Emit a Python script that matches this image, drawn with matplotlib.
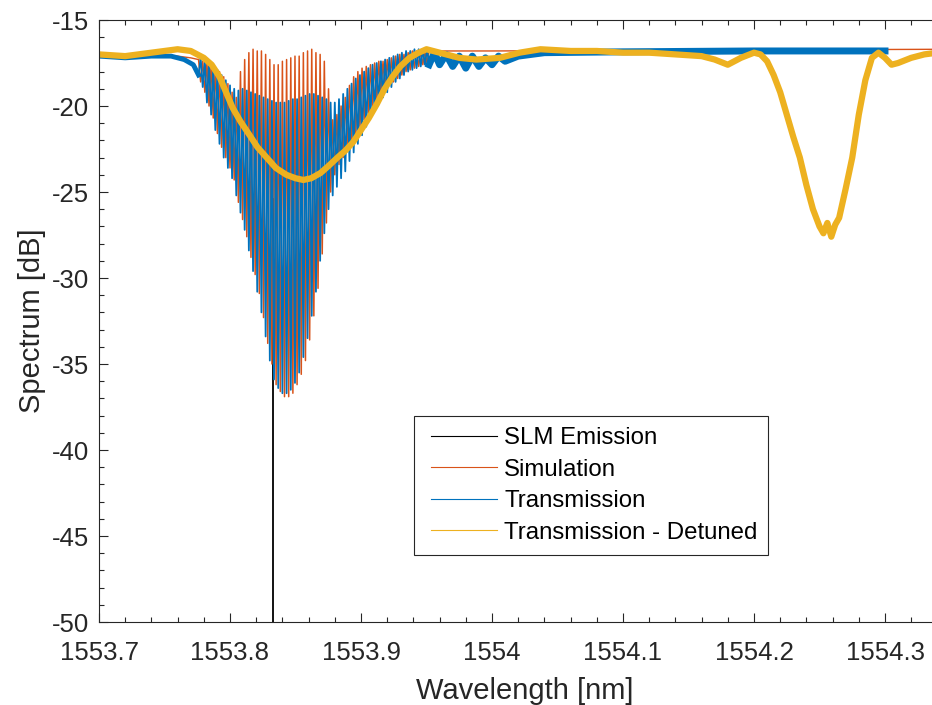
import numpy as np
import matplotlib
matplotlib.use("Agg")
import matplotlib.pyplot as plt
from matplotlib.lines import Line2D
from matplotlib.legend_handler import HandlerBase
from matplotlib.ticker import MultipleLocator

plt.rcParams['font.family'] = ['Liberation Sans', 'DejaVu Sans']
plt.rcParams['axes.unicode_minus'] = False

# MATLAB default line colours
C_SLM = '#000000'
C_SIM = '#D95319'
C_TRA = '#0072BD'
C_DET = '#EDB120'

# SLM laser line
slm_wl = [1553.8328, 1553.8328]
slm_db = [-60.0, -25.4]

# fringe extrema grid (peaks/troughs alternate; sim and transmission interleaved)
fringe_wl = [
    1553.7760, 1553.7776, 1553.7792, 1553.7808, 1553.7824, 1553.7840, 1553.7856, 1553.7872, 1553.7888, 1553.7904,
    1553.7920, 1553.7936, 1553.7952, 1553.7968, 1553.7984, 1553.8000, 1553.8016, 1553.8032, 1553.8048, 1553.8064,
    1553.8080, 1553.8096, 1553.8112, 1553.8128, 1553.8144, 1553.8160, 1553.8176, 1553.8192, 1553.8208, 1553.8224,
    1553.8240, 1553.8256, 1553.8272, 1553.8288, 1553.8304, 1553.8320, 1553.8336, 1553.8352, 1553.8368, 1553.8384,
    1553.8400, 1553.8416, 1553.8432, 1553.8448, 1553.8464, 1553.8480, 1553.8496, 1553.8512, 1553.8528, 1553.8544,
    1553.8560, 1553.8576, 1553.8592, 1553.8608, 1553.8624, 1553.8640, 1553.8656, 1553.8672, 1553.8688, 1553.8704,
    1553.8720, 1553.8736, 1553.8752, 1553.8768, 1553.8784, 1553.8800, 1553.8816, 1553.8832, 1553.8848, 1553.8864,
    1553.8880, 1553.8896, 1553.8912, 1553.8928, 1553.8944, 1553.8960, 1553.8976, 1553.8992, 1553.9008, 1553.9024,
    1553.9040, 1553.9056, 1553.9072, 1553.9088, 1553.9104, 1553.9120, 1553.9136, 1553.9152, 1553.9168, 1553.9184,
    1553.9200, 1553.9216, 1553.9232, 1553.9248, 1553.9264, 1553.9280, 1553.9296, 1553.9312, 1553.9328, 1553.9344,
    1553.9360, 1553.9376, 1553.9392, 1553.9408, 1553.9424, 1553.9440, 1553.9456, 1553.9472, 1553.9488, 1553.9504,
    1553.9520,
]

sim_fringe_db = [
    -17.3, -18.6, -17.4, -19.2, -17.5, -20.0, -17.6, -20.7, -17.8, -21.6,
    -18.0, -22.4, -18.3, -23.0, -18.7, -23.6, -19.2, -24.3, -19.5, -25.6,
    -18.0, -26.6, -17.3, -27.6, -16.9, -28.8, -16.7, -29.8, -16.8, -30.9,
    -16.8, -32.3, -17.0, -33.8, -17.3, -35.0, -17.6, -36.2, -17.6, -36.6,
    -17.4, -36.9, -17.3, -36.9, -17.2, -36.7, -17.1, -36.2, -17.1, -35.6,
    -16.9, -34.8, -16.8, -33.6, -16.7, -32.2, -16.9, -30.6, -17.0, -28.6,
    -17.4, -26.8, -19.0, -25.0, -20.8, -24.0, -20.5, -23.4, -20.0, -23.0,
    -19.5, -22.5, -18.8, -22.0, -18.3, -21.7, -18.0, -21.2, -17.8, -20.8,
    -17.7, -20.4, -17.6, -20.0, -17.5, -19.6, -17.4, -19.3, -17.4, -19.0,
    -17.3, -18.8, -17.2, -18.6, -17.1, -18.4, -17.0, -18.2, -17.0, -18.0,
    -16.9, -17.9, -16.8, -17.8, -16.8, -17.7, -16.8, -17.6, -16.8, -17.5,
    -16.8,
]

tra_fringe_db = [
    -18.2, -17.2, -18.9, -17.4, -19.8, -17.5, -20.5, -17.7, -21.4, -17.9,
    -22.2, -18.2, -23.0, -18.5, -23.6, -18.8, -24.2, -19.0, -25.2, -19.1,
    -26.2, -19.0, -27.2, -19.1, -28.4, -19.2, -29.6, -19.3, -30.8, -19.4,
    -32.0, -19.5, -33.4, -19.6, -34.8, -19.7, -35.9, -19.8, -36.4, -19.8,
    -36.7, -19.8, -36.7, -19.7, -36.5, -19.6, -36.1, -19.6, -35.5, -19.5,
    -34.6, -19.4, -33.5, -19.3, -32.2, -19.3, -30.8, -19.4, -29.0, -19.5,
    -27.4, -19.6, -26.0, -19.8, -25.2, -19.8, -24.7, -19.6, -24.2, -19.3,
    -23.8, -19.0, -23.2, -18.7, -22.7, -18.4, -22.2, -18.2, -21.7, -18.0,
    -21.2, -17.8, -20.7, -17.6, -20.3, -17.5, -19.9, -17.4, -19.5, -17.3,
    -19.2, -17.2, -18.9, -17.1, -18.6, -17.0, -18.4, -16.9, -18.2, -16.8,
    -18.0, -16.8, -17.9, -16.7, -17.8, -16.7, -17.7, -16.7, -17.6, -16.7,
    -17.6,
]

# smooth parts of the simulated spectrum
sim_left_wl = [1553.700, 1553.740, 1553.760, 1553.770, 1553.7760]
sim_left_db = [-17.0, -17.0, -17.1, -17.2, -17.3]
sim_right_wl = [1553.9520, 1553.960, 1554.000, 1554.350]
sim_right_db = [-16.8, -16.8, -16.8, -16.7]

# measured transmission outside the fringe band
tra_left_wl = [1553.700, 1553.720, 1553.740, 1553.755, 1553.765, 1553.7720, 1553.7760]
tra_left_db = [-17.1, -17.2, -17.1, -17.1, -17.3, -17.6, -18.2]
tra_right_wl = [1553.9520, 1553.956, 1553.960, 1553.965, 1553.970, 1553.975, 1553.980, 1553.985,
                1553.990, 1553.995, 1554.000, 1554.005, 1554.010, 1554.020, 1554.040, 1554.100,
                1554.200, 1554.300]
tra_right_db = [-17.6, -16.9, -17.6, -17.0, -17.7, -17.1, -17.8, -17.1,
                -17.7, -17.2, -17.6, -17.1, -17.4, -17.1, -16.9, -16.85,
                -16.8, -16.8]

# detuned transmission
det_wl = [1553.700, 1553.720, 1553.740, 1553.760, 1553.770, 1553.780, 1553.786, 1553.792,
          1553.797, 1553.802, 1553.808, 1553.815, 1553.821, 1553.828, 1553.835, 1553.843,
          1553.850, 1553.856, 1553.862, 1553.869, 1553.875, 1553.882, 1553.888, 1553.894,
          1553.900, 1553.906, 1553.912, 1553.918, 1553.924, 1553.930, 1553.937, 1553.944,
          1553.950, 1553.960, 1553.975, 1553.988, 1554.006, 1554.021, 1554.037, 1554.060,
          1554.080, 1554.100, 1554.120, 1554.140, 1554.160, 1554.170, 1554.180, 1554.190,
          1554.200, 1554.205, 1554.210, 1554.215, 1554.220, 1554.225, 1554.230, 1554.235,
          1554.240, 1554.245, 1554.250, 1554.253, 1554.256, 1554.259, 1554.262, 1554.265,
          1554.270, 1554.275, 1554.280, 1554.285, 1554.290, 1554.295, 1554.300, 1554.305,
          1554.310, 1554.320, 1554.330, 1554.340]
det_db = [-17.0, -17.1, -16.9, -16.7, -16.8, -17.2, -17.6, -18.3,
          -19.2, -20.1, -20.9, -21.7, -22.4, -23.0, -23.6, -24.0,
          -24.2, -24.3, -24.2, -23.9, -23.5, -23.0, -22.6, -22.1,
          -21.4, -20.7, -19.9, -19.0, -18.3, -17.7, -17.2, -16.9,
          -16.7, -16.9, -17.2, -17.3, -17.2, -16.9, -16.7, -16.8,
          -16.8, -16.9, -16.9, -17.0, -17.1, -17.3, -17.6, -17.2,
          -16.9, -17.0, -17.4, -18.2, -19.2, -20.5, -21.8, -23.0,
          -24.6, -26.0, -27.0, -27.4, -26.8, -27.6, -26.9, -26.5,
          -24.8, -23.0, -20.5, -18.5, -17.2, -16.9, -17.2, -17.6,
          -17.5, -17.2, -17.0, -16.9]


class InsetLineHandler(HandlerBase):
    """Legend line that starts a little inside its handle box."""
    def create_artists(self, legend, orig_handle, xdescent, ydescent,
                       width, height, fontsize, trans):
        y = height / 2 - ydescent
        line = Line2D([-xdescent + 0.09 * width, -xdescent + width], [y, y],
                      color=orig_handle.get_color(), lw=orig_handle.get_linewidth())
        line.set_transform(trans)
        return [line]


fig = plt.figure(figsize=(9.32, 7.05), dpi=100)
ax = fig.add_axes([99 / 932, 83 / 705, 851.5 / 932, 602 / 705])

ax.plot(slm_wl, slm_db, color=C_SLM, lw=1.3)

ax.plot(sim_left_wl, sim_left_db, color=C_SIM, lw=1.0)
ax.plot(fringe_wl, sim_fringe_db, color=C_SIM, lw=1.1)
ax.plot(sim_right_wl, sim_right_db, color=C_SIM, lw=1.0)

ax.plot(tra_left_wl, tra_left_db, color=C_TRA, lw=3.5, solid_joinstyle='round')
ax.plot(fringe_wl, tra_fringe_db, color=C_TRA, lw=1.3)
ax.plot(tra_right_wl, tra_right_db, color=C_TRA, lw=5.0, solid_joinstyle='round')

ax.plot(det_wl, det_db, color=C_DET, lw=4.5, solid_joinstyle='round', solid_capstyle='butt')

ax.set_xlim(1553.7, 1554.35)
ax.set_ylim(-50, -15)
ax.xaxis.set_minor_locator(MultipleLocator(0.02))
ax.yaxis.set_major_locator(MultipleLocator(5))
ax.yaxis.set_minor_locator(MultipleLocator(1))
ax.set_xticks([1553.7, 1553.8, 1553.9, 1554.0, 1554.1, 1554.2, 1554.3])
ax.set_xticklabels(['1553.7', '1553.8', '1553.9', '1554', '1554.1', '1554.2', '1554.3'])

axis_col = '#262626'
for s in ax.spines.values():
    s.set_color(axis_col)
    s.set_linewidth(0.8)
ax.tick_params(which='both', direction='in', top=True, right=True, colors=axis_col,
               labelsize=18.5, labelcolor='#262626')
ax.tick_params(which='major', length=6.5, width=0.8)
ax.tick_params(which='minor', length=3.5, width=0.8)
ax.tick_params(axis='x', pad=13.5)
ax.tick_params(axis='y', pad=7)

ax.set_xlabel('Wavelength [nm]', fontsize=21, color='#262626', labelpad=9)
ax.set_ylabel('Spectrum [dB]', fontsize=21, color='#262626', labelpad=4)

handles = [
    Line2D([], [], color=C_SLM, lw=0.8),
    Line2D([], [], color=C_SIM, lw=0.8),
    Line2D([], [], color=C_TRA, lw=0.8),
    Line2D([], [], color=C_DET, lw=0.8),
]
labels = ['SLM Emission', 'Simulation', 'Transmission', 'Transmission - Detuned']
leg = ax.legend(handles, labels, loc='upper left', bbox_to_anchor=(0.370, 0.342),
                fontsize=17.3, frameon=True, fancybox=False, framealpha=1,
                handlelength=3.0, handletextpad=0.3, labelspacing=0.4,
                borderpad=0.45, borderaxespad=0,
                handler_map={Line2D: InsetLineHandler()})
leg.get_frame().set_edgecolor('#262626')
leg.get_frame().set_linewidth(0.8)
for t in leg.get_texts():
    t.set_color('#000000')

fig.savefig('out.png', dpi=100)
